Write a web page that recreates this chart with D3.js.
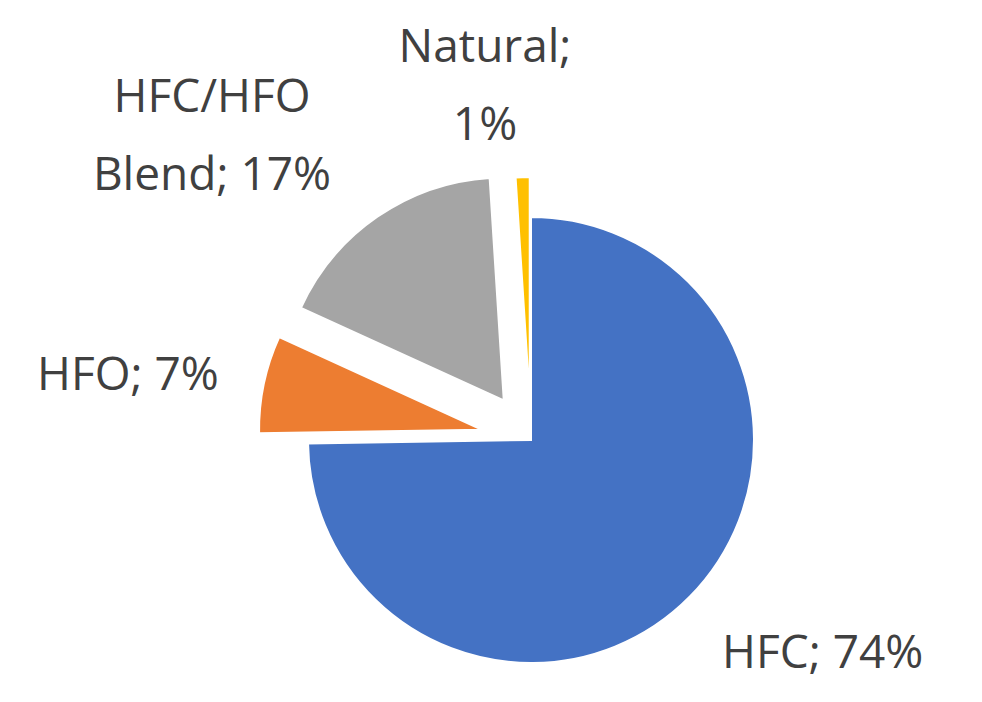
<!DOCTYPE html>
<html>
<head>
<meta charset="utf-8">
<script src="https://cdn.jsdelivr.net/npm/d3@7"></script>
<style>
  body { margin: 0; background: #fff; }
  text { font-family: "Open Sans", sans-serif; fill: #404040; font-size: 46px; }
</style>
</head>
<body>
<svg id="chart" width="982" height="702"></svg>
<script>
// data
const categories = ["HFC", "HFO", "HFC/HFO Blend", "Natural"];
const values = [74, 7, 17, 1];
const colors = ["#4472C4", "#ED7D31", "#A5A5A5", "#FFC000"];
const explode = [0, 50, 48, 40];
const labelLines = [["HFC; 74%"], ["HFO; 7%"], ["HFC/HFO", "Blend; 17%"], ["Natural;", "1%"]];
const labelPos = [[722, 668, "start"], [37, 390, "start"], [212, 112, "middle"], [485, 62, "middle"]];

const cx = 531, cy = 440, r = 223;
const svg = d3.select("#chart");

const pie = d3.pie().sort(null).value(d => d)(values);
const arc = d3.arc().innerRadius(0).outerRadius(r);

svg.append("g")
    .attr("transform", "translate(" + cx + "," + cy + ")")
    .selectAll("path")
    .data(pie)
    .enter()
    .append("path")
    .attr("d", arc)
    .attr("fill", (d, i) => colors[i])
    .attr("stroke", "#fff")
    .attr("stroke-width", 2)
    .attr("transform", (d, i) => {
        const a = (d.startAngle + d.endAngle) / 2;
        return "translate(" + (explode[i] * Math.sin(a)) + "," + (-explode[i] * Math.cos(a)) + ")";
    });

labelLines.forEach((lines, i) => {
    const t = svg.append("text")
        .attr("x", labelPos[i][0])
        .attr("y", labelPos[i][1])
        .attr("text-anchor", labelPos[i][2]);
    lines.forEach((l, j) => {
        t.append("tspan")
            .attr("x", labelPos[i][0])
            .attr("dy", j === 0 ? 0 : 78)
            .text(l);
    });
});
</script>
</body>
</html>
